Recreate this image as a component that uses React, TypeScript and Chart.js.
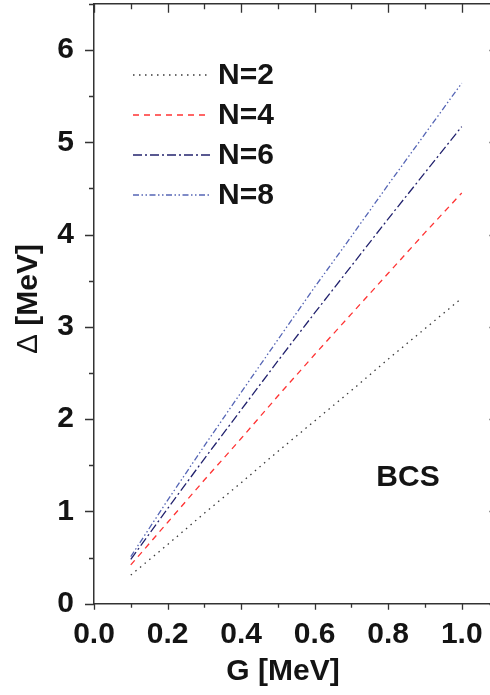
import React, { useEffect, useRef } from "react";
import { Chart, registerables } from "chart.js";

Chart.register(...registerables);

const G = [0.1, 0.2, 0.3, 0.4, 0.5, 0.6, 0.7, 0.8, 0.9, 1.0];
const N2 = [0.31, 0.64, 0.98, 1.31, 1.65, 1.98, 2.31, 2.65, 2.98, 3.31];
const N4 = [0.42, 0.88, 1.34, 1.79, 2.25, 2.7, 3.14, 3.58, 4.02, 4.45];
const N6 = [0.48, 1.03, 1.57, 2.1, 2.63, 3.15, 3.66, 4.17, 4.67, 5.17];
const N8 = [0.51, 1.12, 1.71, 2.29, 2.86, 3.43, 3.98, 4.54, 5.09, 5.64];
const SERIES_LABELS = ["N=2", "N=4", "N=6", "N=8"];
const X_TITLE = "G [MeV]";
const Y_TITLE_SYMBOL = "\u0394";
const Y_TITLE_UNIT = " [MeV]";
const ANNOTATION = "BCS";

const FONT_FAMILY = "'Liberation Sans', Arial, Helvetica, sans-serif";
const AXIS_COLOR = "#333333";
const TEXT_COLOR = "#141414";

const decorPlugin = {
  id: "decor",
  afterDraw(chart: any) {
    const ctx = chart.ctx;
    const area = chart.chartArea;
    const xs = chart.scales.x;
    const ys = chart.scales.y;
    ctx.save();
    ctx.strokeStyle = AXIS_COLOR;
    ctx.lineWidth = 1.5;
    // top border
    ctx.beginPath();
    ctx.moveTo(area.left, area.top);
    ctx.lineTo(area.right, area.top);
    ctx.stroke();
    ctx.lineWidth = 1.3;
    // x ticks
    for (let i = 0; i <= 11; i++) {
      const v = i / 10;
      const px = Math.round(xs.getPixelForValue(v)) + 0.5;
      const major = i % 2 === 0;
      ctx.beginPath();
      ctx.moveTo(px, area.bottom);
      ctx.lineTo(px, area.bottom + (major ? 6 : 4));
      ctx.moveTo(px, area.top);
      ctx.lineTo(px, area.top + (major ? 9 : 5.5));
      ctx.stroke();
    }
    // y ticks
    for (let i = 0; i <= 13; i++) {
      const v = i / 2;
      const py = Math.round(ys.getPixelForValue(v)) + 0.5;
      const major = i % 2 === 0;
      ctx.beginPath();
      ctx.moveTo(area.left, py);
      ctx.lineTo(area.left - (major ? 9 : 5), py);
      ctx.moveTo(area.right, py);
      ctx.lineTo(area.right - (major ? 9 : 5), py);
      ctx.stroke();
    }
    // legend
    const ds = chart.data.datasets;
    const bold = `bold 30px ${FONT_FAMILY}`;
    const normal = `normal 30px ${FONT_FAMILY}`;
    ctx.font = bold;
    ctx.textBaseline = "middle";
    ctx.textAlign = "left";
    for (let i = 0; i < ds.length; i++) {
      const y = 75 + i * 40;
      ctx.save();
      ctx.strokeStyle = ds[i].borderColor;
      ctx.lineWidth = ds[i].borderWidth;
      ctx.setLineDash(ds[i].borderDash || []);
      ctx.beginPath();
      ctx.moveTo(133, y);
      ctx.lineTo(210, y);
      ctx.stroke();
      ctx.restore();
      ctx.fillStyle = TEXT_COLOR;
      ctx.fillText(ds[i].label, 218, y + 1);
    }
    // annotation
    ctx.fillStyle = TEXT_COLOR;
    ctx.textAlign = "center";
    ctx.fillText(ANNOTATION, xs.getPixelForValue(0.854), ys.getPixelForValue(1.36));
    // axis titles
    ctx.fillText(X_TITLE, 283, 672);
    ctx.save();
    ctx.translate(29, 299);
    ctx.rotate(-Math.PI / 2);
    ctx.font = normal;
    const w1 = ctx.measureText(Y_TITLE_SYMBOL).width;
    ctx.font = bold;
    const w2 = ctx.measureText(Y_TITLE_UNIT).width;
    const start = -(w1 + w2) / 2;
    ctx.textAlign = "left";
    ctx.font = normal;
    ctx.fillText(Y_TITLE_SYMBOL, start, 0);
    ctx.font = bold;
    ctx.fillText(Y_TITLE_UNIT, start + w1, 0);
    ctx.restore();
    ctx.restore();
  },
};

export default function App() {
  const ref = useRef<HTMLCanvasElement | null>(null);
  useEffect(() => {
    if (!ref.current) return;
    const toXY = (arr: number[]) => arr.map((y, i) => ({ x: G[i], y }));
    const chart = new Chart(ref.current, {
      type: "line",
      data: {
        datasets: [
          { label: SERIES_LABELS[0], data: toXY(N2), borderColor: "#3a3a3a", borderWidth: 1.3, borderDash: [1.5, 4.5] },
          { label: SERIES_LABELS[1], data: toXY(N4), borderColor: "#ff3333", borderWidth: 1.3, borderDash: [6, 5] },
          { label: SERIES_LABELS[2], data: toXY(N6), borderColor: "#23236e", borderWidth: 1.3, borderDash: [9, 3, 2, 3] },
          { label: SERIES_LABELS[3], data: toXY(N8), borderColor: "#5565b5", borderWidth: 1.3, borderDash: [6, 2.5, 1.5, 2.5, 1.5, 2.5] },
        ] as any,
      },
      options: {
        responsive: false,
        animation: false,
        elements: { point: { radius: 0 }, line: { tension: 0 } },
        layout: { padding: { left: 0, right: 1.5, top: 3.8, bottom: 0 } },
        plugins: { legend: { display: false }, tooltip: { enabled: false } },
        scales: {
          x: {
            type: "linear",
            min: 0,
            max: 1.1,
            grid: { display: false },
            border: { display: true, color: AXIS_COLOR, width: 1.5 },
            ticks: {
              stepSize: 0.1,
              includeBounds: false,
              padding: 5,
              color: TEXT_COLOR,
              font: { family: FONT_FAMILY, size: 30, weight: "bold" },
              maxRotation: 0,
              autoSkip: false,
              callback: (v: any) => {
                const n = Math.round(Number(v) * 10);
                return n % 2 === 0 && n <= 10 ? (n / 10).toFixed(1) : "";
              },
            },
            afterFit: (s: any) => {
              s.height = 91.3;
              s.paddingLeft = 0;
              s.paddingRight = 0;
            },
          },
          y: {
            type: "linear",
            min: 0,
            max: 6.5,
            grid: { display: false },
            border: { display: true, color: AXIS_COLOR, width: 1.5 },
            ticks: {
              stepSize: 0.5,
              padding: 12,
              color: TEXT_COLOR,
              font: { family: FONT_FAMILY, size: 30, weight: "bold" },
              autoSkip: false,
              callback: (v: any) => {
                const n = Number(v);
                return Math.abs(n - Math.round(n)) < 1e-6 && n <= 6 ? String(Math.round(n)) : "";
              },
            },
            afterFit: (s: any) => {
              s.width = 94;
              s.paddingTop = 0;
              s.paddingBottom = 0;
            },
          },
        },
      },
      plugins: [decorPlugin],
    });
    return () => chart.destroy();
  }, []);
  return (
    <div style={{ position: "fixed", left: 0, top: 0, width: 490, height: 695, overflow: "hidden", background: "#fff" }}>
      <canvas ref={ref} width={500} height={695} style={{ display: "block" }} />
    </div>
  );
}
